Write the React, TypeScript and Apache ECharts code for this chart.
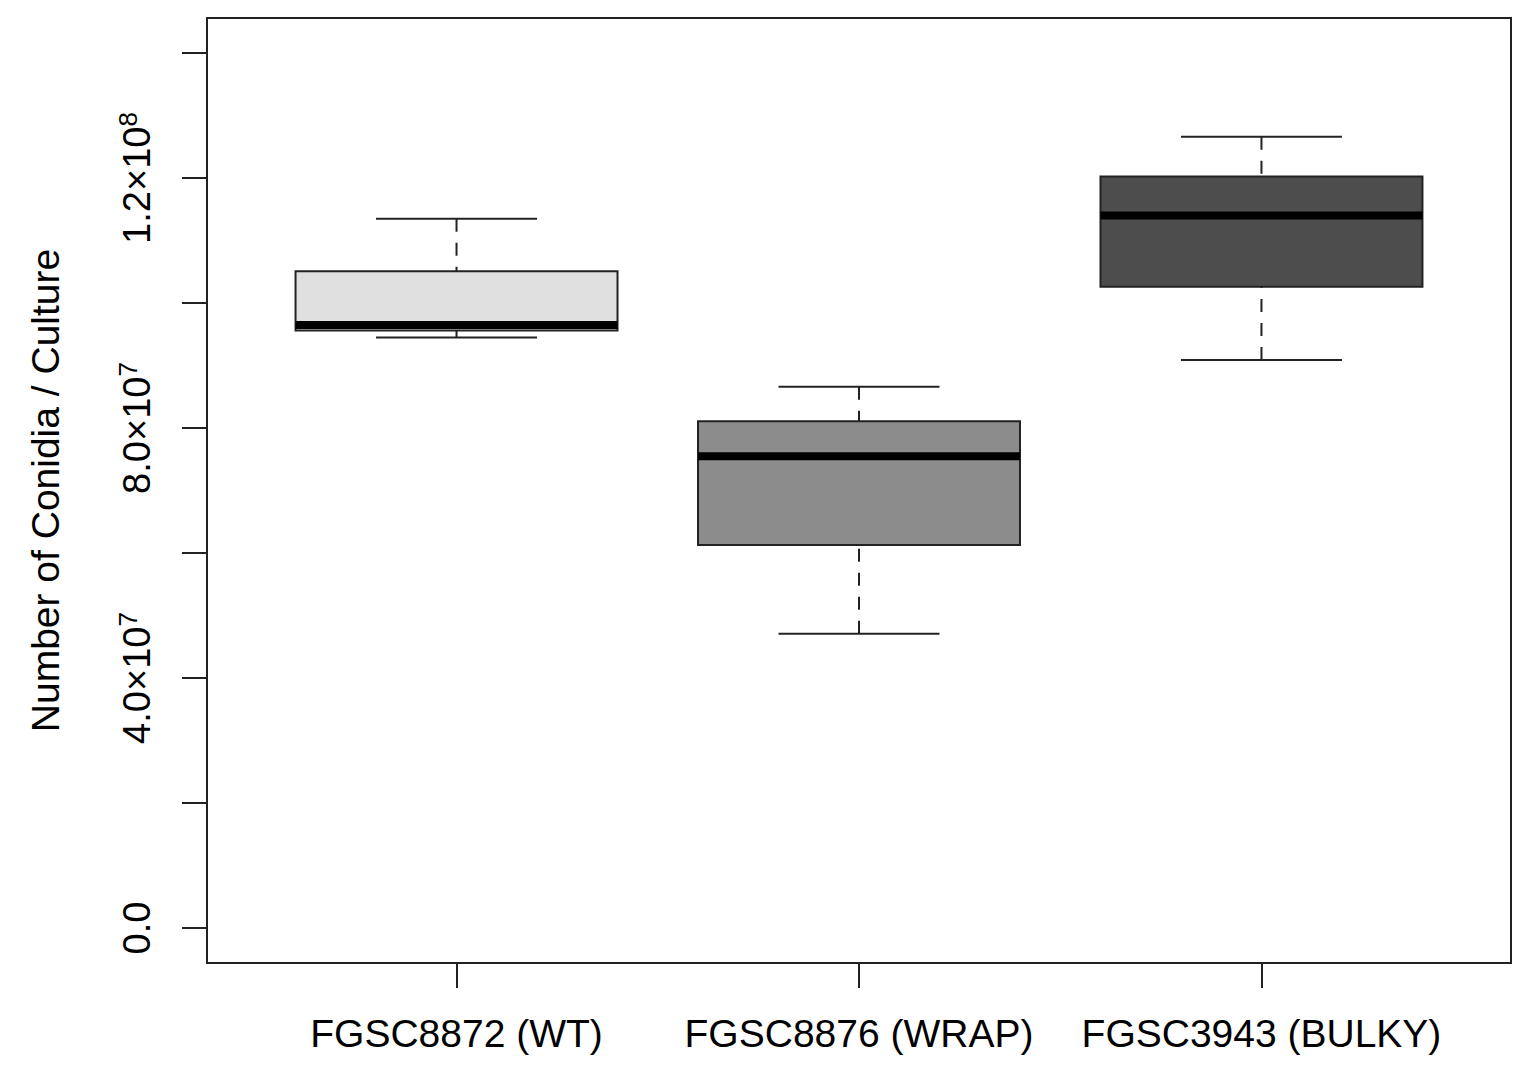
import React, { useEffect, useRef } from "react";
import * as echarts from "echarts";

// ---- data ----
const categories = ["FGSC8872 (WT)", "FGSC8876 (WRAP)", "FGSC3943 (BULKY)"];
const lowerWhisker = [9.45e7, 4.71e7, 9.09e7];
const firstQuartile = [9.56e7, 6.13e7, 1.026e8];
const medians = [9.65e7, 7.55e7, 1.14e8];
const thirdQuartile = [1.051e8, 8.11e7, 1.2025e8];
const upperWhisker = [1.135e8, 8.66e7, 1.266e8];

const yTickValues = [0, 2e7, 4e7, 6e7, 8e7, 1e8, 1.2e8, 1.4e8];
const yLabelValues = [0, 4e7, 8e7, 1.2e8];
const yLabelMantissa = ["0.0", "4.0×10", "8.0×10", "1.2×10"];
const yLabelExponent = ["", "7", "7", "8"];

const boxColors = ["#E0E0E0", "#8C8C8C", "#4D4D4D"];
const FONT = "'Liberation Sans', Arial, Helvetica, sans-serif";

export default function App() {
  const ref = useRef<HTMLDivElement>(null);
  useEffect(() => {
    if (!ref.current) return;
    const chart = echarts.init(ref.current, null, { renderer: "svg" });
    const data = categories.map((_, i) => [
      i + 1,
      lowerWhisker[i],
      firstQuartile[i],
      medians[i],
      thirdQuartile[i],
      upperWhisker[i],
    ]);
    const lineColor = "#222";
    chart.setOption({
      animation: false,
      backgroundColor: "#fff",
      grid: {
        left: 207,
        right: 21,
        top: 18,
        bottom: 114,
        show: true,
        borderColor: lineColor,
        borderWidth: 2,
        backgroundColor: "transparent",
      },
      xAxis: {
        type: "value",
        min: 0.38,
        max: 3.62,
        axisLine: { show: false, onZero: false },
        splitLine: { show: false },
        axisTick: {
          show: true,
          customValues: [1, 2, 3],
          length: 25,
          lineStyle: { color: lineColor, width: 2 },
        },
        axisLabel: {
          customValues: [1, 2, 3],
          formatter: (v: number) => categories[Math.round(v) - 1] ?? "",
          fontSize: 39,
          fontFamily: FONT,
          color: "#000",
          margin: 51,
        },
      },
      yAxis: {
        type: "value",
        min: -5.6e6,
        max: 1.456e8,
        axisLine: { show: false, onZero: false },
        splitLine: { show: false },
        axisTick: {
          show: true,
          customValues: yTickValues,
          length: 25,
          lineStyle: { color: lineColor, width: 2 },
        },
        axisLabel: {
          customValues: yLabelValues,
          rotate: 90,
          margin: 48,
          formatter: (v: number) => {
            const i = yLabelValues.findIndex((t) => Math.abs(t - v) < 1);
            if (i < 0) return "";
            const e = yLabelExponent[i];
            return e ? `{n|${yLabelMantissa[i]}}{s|${e}}` : `{n|${yLabelMantissa[i]}}`;
          },
          rich: {
            n: { fontSize: 38, fontFamily: FONT, color: "#000", lineHeight: 44 },
            s: {
              fontSize: 26,
              fontFamily: FONT,
              color: "#000",
              lineHeight: 26,
              verticalAlign: "top",
            },
          },
        },
        name: "Number of Conidia / Culture",
        nameLocation: "middle",
        nameRotate: 90,
        nameGap: 142,
        nameTextStyle: { fontSize: 39, fontFamily: FONT, color: "#000" },
      },
      series: [
        {
          type: "custom",
          data,
          encode: { x: 0, y: [1, 2, 3, 4, 5] },
          renderItem: (params: any, api: any) => {
            const x = api.value(0);
            const lo = api.value(1);
            const a = api.value(2);
            const m = api.value(3);
            const b = api.value(4);
            const hi = api.value(5);
            const xl = api.coord([x - 0.4, 0])[0];
            const xr = api.coord([x + 0.4, 0])[0];
            const sl = api.coord([x - 0.2, 0])[0];
            const sr = api.coord([x + 0.2, 0])[0];
            const xc = api.coord([x, 0])[0];
            const yLo = api.coord([x, lo])[1];
            const yA = api.coord([x, a])[1];
            const yM = api.coord([x, m])[1];
            const yB = api.coord([x, b])[1];
            const yHi = api.coord([x, hi])[1];
            const stroke = { stroke: lineColor, lineWidth: 2, fill: null };
            const dashed = { ...stroke, lineDash: [13, 11] };
            return {
              type: "group",
              children: [
                { type: "line", shape: { x1: xc, y1: yLo, x2: xc, y2: yA }, style: dashed },
                { type: "line", shape: { x1: xc, y1: yHi, x2: xc, y2: yB }, style: dashed },
                { type: "line", shape: { x1: sl, y1: yLo, x2: sr, y2: yLo }, style: stroke },
                { type: "line", shape: { x1: sl, y1: yHi, x2: sr, y2: yHi }, style: stroke },
                {
                  type: "rect",
                  shape: { x: xl, y: yB, width: xr - xl, height: yA - yB },
                  style: { fill: boxColors[params.dataIndex], stroke: lineColor, lineWidth: 2 },
                },
                {
                  type: "line",
                  shape: { x1: xl, y1: yM, x2: xr, y2: yM },
                  style: { stroke: "#000", lineWidth: 8, lineCap: "butt" },
                },
              ],
            };
          },
        },
      ],
    });
    return () => chart.dispose();
  }, []);
  return (
    <div
      ref={ref}
      style={{ position: "absolute", left: 0, top: 0, width: 1532, height: 1077, background: "#fff" }}
    />
  );
}
